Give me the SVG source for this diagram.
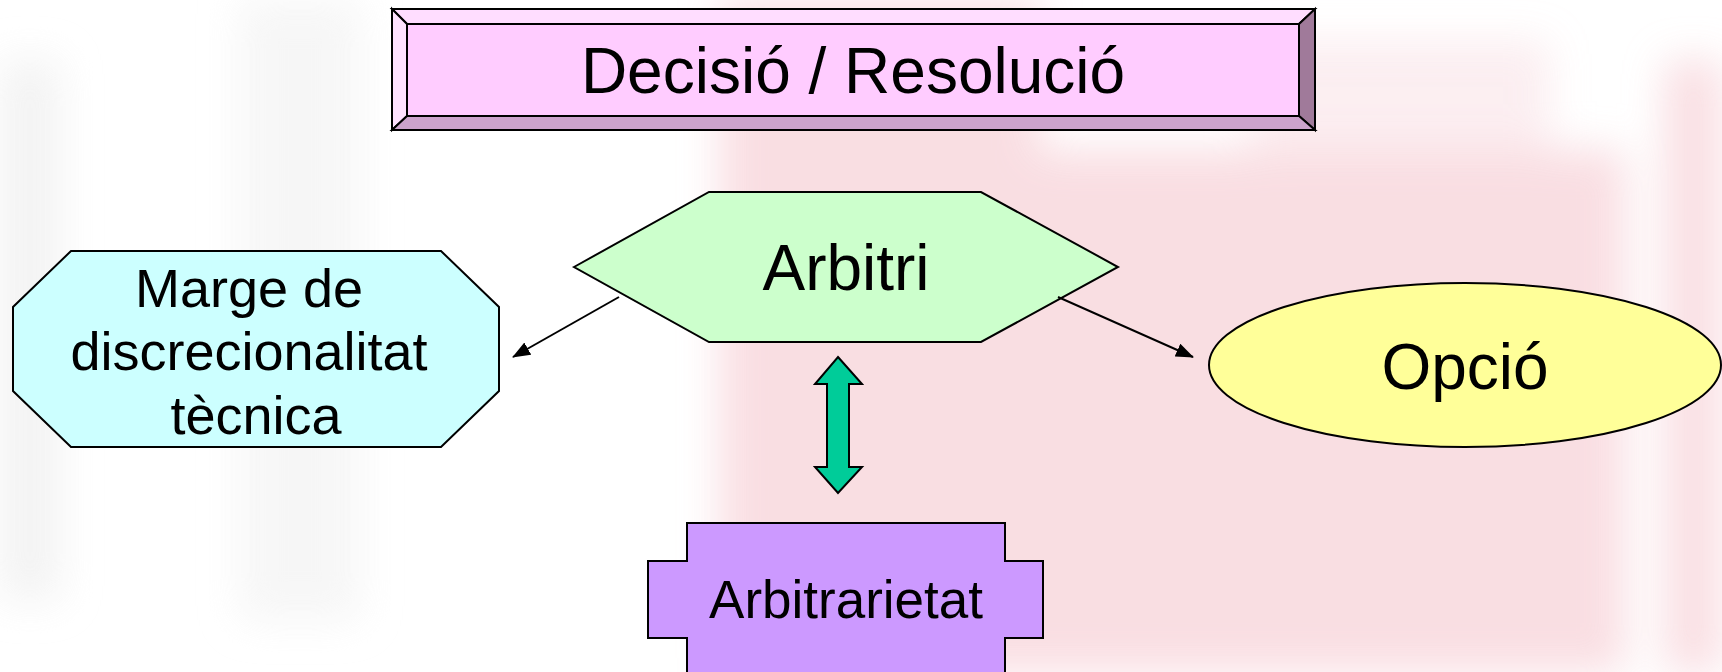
<svg xmlns="http://www.w3.org/2000/svg" width="1722" height="672" viewBox="0 0 1722 672">
<defs>
<style>
text{font-family:"Liberation Sans",Arial,sans-serif;fill:#000;text-anchor:middle}
.s{stroke:#000;stroke-width:2;stroke-linejoin:miter}
.c{stroke:#000;stroke-width:2;fill:none}
</style>
<filter id="blur" x="-20%" y="-20%" width="140%" height="140%"><feGaussianBlur stdDeviation="20"/></filter>
<marker id="ah" markerUnits="userSpaceOnUse" markerWidth="18" markerHeight="14" refX="17" refY="7" orient="auto">
<path d="M0,0 L18,7 L0,14 z" fill="#000"/>
</marker>
</defs>
<rect width="1722" height="672" fill="#fff"/>
<g id="background" filter="url(#blur)" fill="#F8D6DB" opacity="0.8">
<rect x="720" y="0" width="320" height="672"/>
<rect x="1040" y="150" width="585" height="522"/>
<rect x="1250" y="40" width="300" height="120" opacity="0.5"/>
<rect x="1665" y="60" width="57" height="612"/>
<rect x="0" y="60" width="60" height="540" fill="#F0F0F0"/>
<rect x="240" y="0" width="120" height="620" fill="#F4F4F4"/>
</g>
<g id="decisio">
<polygon points="392,9 1315,9 1299,24 407,24" fill="#FFDDFF" class="s"/>
<polygon points="392,9 407,24 407,116 392,130" fill="#FFE2FF" class="s"/>
<polygon points="1315,9 1315,130 1299,116 1299,24" fill="#A07A9A" class="s"/>
<polygon points="392,130 407,116 1299,116 1315,130" fill="#CCA3CC" class="s"/>
<rect x="407" y="24" width="892" height="92" fill="#FFCCFF" class="s"/>
<text x="853" y="93" font-size="64">Decisió / Resolució</text>
</g>
<g id="arbitri">
<polygon points="574,267 709,192 981,192 1118,267 981,342 709,342" fill="#CCFFCC" class="s"/>
<text x="846" y="290" font-size="64">Arbitri</text>
</g>
<g id="marge">
<polygon points="71,251 441,251 499,307 499,391 441,447 71,447 13,391 13,307" fill="#CCFFFF" class="s"/>
<text font-size="54"><tspan x="249" y="307">Marge de</tspan><tspan x="249" y="370">discrecionalitat</tspan><tspan x="256" y="434">tècnica</tspan></text>
</g>
<g id="opcio">
<ellipse cx="1465" cy="365" rx="256" ry="82" fill="#FFFF99" class="s"/>
<text x="1465" y="389" font-size="64">Opció</text>
</g>
<g id="arbitrarietat">
<polygon points="687,523 1005,523 1005,561 1043,561 1043,638 1005,638 1005,700 687,700 687,638 648,638 648,561 687,561" fill="#CC99FF" class="s"/>
<text x="846" y="618" font-size="53">Arbitrarietat</text>
</g>
<g id="connectors">
<line x1="619" y1="297" x2="513" y2="357" class="c" marker-end="url(#ah)"/>
<line x1="1058" y1="297" x2="1193" y2="357" class="c" marker-end="url(#ah)"/>
<polygon points="838,357 862,384 849,384 849,467 862,467 838,493 815,467 827,467 827,384 815,384" fill="#00CC99" class="s"/>
</g>
</svg>
